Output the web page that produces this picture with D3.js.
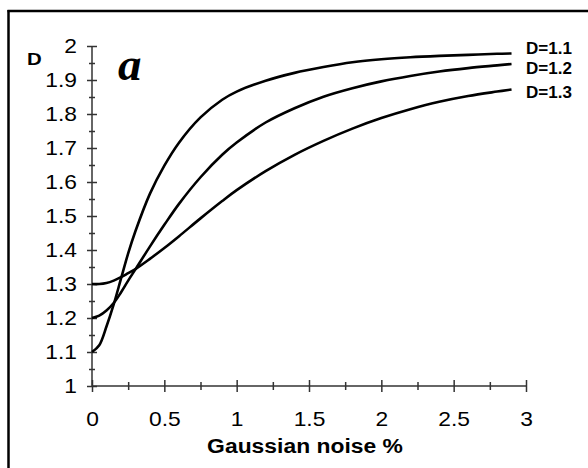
<!DOCTYPE html>
<html>
<head>
<meta charset="utf-8">
<script src="https://cdn.jsdelivr.net/npm/d3@7"></script>
<style>
  html, body { margin: 0; padding: 0; background: #fff; }
  svg { display: block; }
</style>
</head>
<body>
<svg id="chart" width="588" height="468"></svg>
<script>
const xValues = [0, 0.05, 0.1, 0.15, 0.2, 0.25, 0.3, 0.4, 0.5, 0.6, 0.75, 0.9, 1.0, 1.2, 1.4, 1.6, 1.8, 2.0, 2.2, 2.4, 2.6, 2.8, 2.9];
const seriesD11 = [1.10, 1.12, 1.175, 1.24, 1.315, 1.39, 1.455, 1.565, 1.648, 1.715, 1.79, 1.842, 1.866, 1.898, 1.921, 1.938, 1.952, 1.961, 1.967, 1.971, 1.974, 1.977, 1.978];
const seriesD12 = [1.20, 1.207, 1.222, 1.244, 1.275, 1.31, 1.343, 1.41, 1.474, 1.535, 1.614, 1.68, 1.716, 1.775, 1.817, 1.851, 1.876, 1.896, 1.912, 1.925, 1.935, 1.943, 1.947];
const seriesD13 = [1.30, 1.30, 1.303, 1.31, 1.32, 1.332, 1.344, 1.374, 1.406, 1.440, 1.493, 1.544, 1.576, 1.632, 1.680, 1.721, 1.757, 1.788, 1.814, 1.836, 1.853, 1.866, 1.872];
const seriesLabels = ["D=1.1", "D=1.2", "D=1.3"];
const xTickValues = [0, 0.5, 1, 1.5, 2, 2.5, 3];
const xMinorTicks = [0.25, 0.75, 1.25, 1.75, 2.25, 2.75];
const yTickValues = [1, 1.1, 1.2, 1.3, 1.4, 1.5, 1.6, 1.7, 1.8, 1.9, 2];
const yMinorTicks = [1.05, 1.15, 1.25, 1.35, 1.45, 1.55, 1.65, 1.75, 1.85, 1.95];
const xTitle = "Gaussian noise %";
const yTitle = "D";
const panelLetter = "a";

const svg = d3.select("#chart");
const x = d3.scaleLinear().domain([0, 3]).range([92, 526]);
const y = d3.scaleLinear().domain([1, 2]).range([386, 46]);

// frame (top and left edges)
svg.append("line").attr("x1", 7.5).attr("x2", 588).attr("y1", 11).attr("y2", 11)
  .attr("stroke", "#000").attr("stroke-width", 2.5);
svg.append("line").attr("x1", 8.5).attr("x2", 8.5).attr("y1", 10).attr("y2", 468)
  .attr("stroke", "#000").attr("stroke-width", 2.5);

const axisColor = "#333";
const font = "Liberation Sans, Arial, sans-serif";
const stretch = 1.14;

// Y axis
const yAxis = svg.append("g").attr("transform", `translate(${x(0)},0)`)
  .call(d3.axisLeft(y).tickValues(yTickValues).tickSize(5).tickPadding(15 / stretch - 5).tickFormat(d3.format("")));
yAxis.select(".domain").attr("d", `M0,${y(1)}V${y(2)}`).attr("stroke", axisColor).attr("stroke-width", 1.5);
yAxis.selectAll(".tick line").attr("x1", -5).attr("x2", 5).attr("stroke", axisColor).attr("stroke-width", 1.5);
yAxis.selectAll(".tick text").attr("font-family", font).attr("font-size", 20).attr("fill", "#000")
  .attr("transform", `scale(${stretch},1)`);
const yMinor = svg.append("g").attr("transform", `translate(${x(0)},0)`)
  .call(d3.axisLeft(y).tickValues(yMinorTicks).tickSize(3).tickFormat(""));
yMinor.select(".domain").remove();
yMinor.selectAll(".tick line").attr("x1", -3).attr("x2", 3).attr("stroke", axisColor).attr("stroke-width", 1.5);

// X axis
const xAxis = svg.append("g").attr("transform", `translate(0,${y(1)})`)
  .call(d3.axisBottom(x).tickValues(xTickValues).tickSize(6).tickPadding(20).tickFormat(d3.format("")));
xAxis.select(".domain").attr("d", `M${x(0)},0H${x(3)}`).attr("stroke", axisColor).attr("stroke-width", 1.5);
xAxis.selectAll(".tick line").attr("y1", -6).attr("y2", 6).attr("stroke", axisColor).attr("stroke-width", 1.5);
xAxis.selectAll(".tick text").attr("font-family", font).attr("font-size", 20).attr("fill", "#000")
  .attr("transform", `scale(${stretch},1)`);
const xMinor = svg.append("g").attr("transform", `translate(0,${y(1)})`)
  .call(d3.axisBottom(x).tickValues(xMinorTicks).tickSize(4).tickFormat(""));
xMinor.select(".domain").remove();
xMinor.selectAll(".tick line").attr("y1", -4).attr("y2", 4).attr("stroke", axisColor).attr("stroke-width", 1.5);

// Curves
const allSeries = [seriesD11, seriesD12, seriesD13];
const line = d3.line().x(d => x(d[0])).y(d => y(d[1])).curve(d3.curveCatmullRom.alpha(0.5));
allSeries.forEach(s => {
  svg.append("path").datum(xValues.map((xv, i) => [xv, s[i]]))
    .attr("d", line).attr("fill", "none").attr("stroke", "#000").attr("stroke-width", 2.6)
    .attr("stroke-linejoin", "round");
});

// Series labels
const labelBaselines = [54, 74, 98];
seriesLabels.forEach((t, i) => {
  svg.append("text").attr("x", 526).attr("y", labelBaselines[i])
    .attr("font-family", font).attr("font-weight", "bold").attr("font-size", 17).text(t);
});

// Titles
svg.append("text").attr("transform", "translate(305,453) scale(1.09,1)").attr("text-anchor", "middle")
  .attr("font-family", font).attr("font-weight", "bold").attr("font-size", 21).text(xTitle);
svg.append("text").attr("transform", "translate(27,65) scale(1.2,1)")
  .attr("font-family", font).attr("font-weight", "bold").attr("font-size", 17).text(yTitle);
svg.append("text").attr("x", 118).attr("y", 80)
  .attr("font-family", "Liberation Serif, Times New Roman, serif").attr("font-weight", "bold")
  .attr("font-style", "italic").attr("font-size", 47).text(panelLetter);
</script>
</body>
</html>
